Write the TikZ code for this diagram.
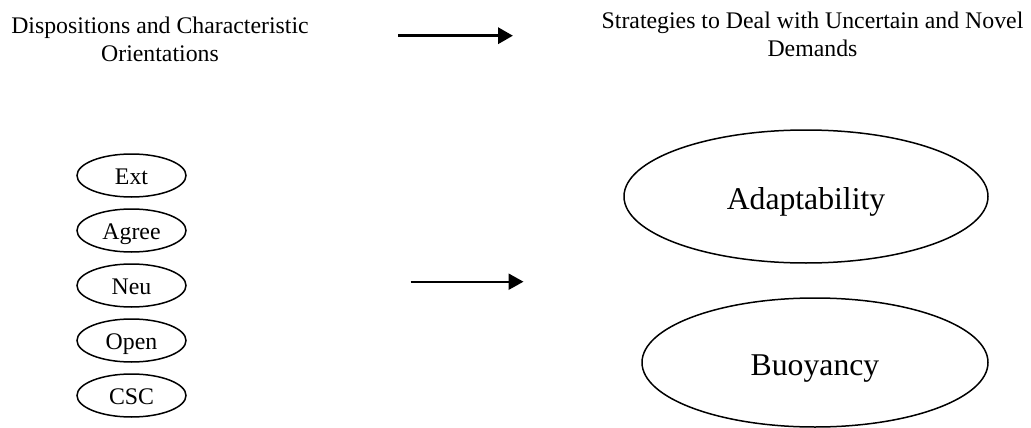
\documentclass[tikz,border=0pt]{standalone}
\usepackage{fontspec}
\setmainfont{Liberation Serif}
\usetikzlibrary{arrows.meta,shapes.geometric}
\tikzset{
  heading/.style={align=center, inner sep=0pt, font=\fontsize{23.8}{28}\selectfont},
  trait/.style={ellipse, draw, line width=1.5pt, inner sep=0pt,
    minimum width=109pt, minimum height=43pt,
    text height=17pt, text depth=0pt, font=\fontsize{23.8}{28}\selectfont},
  strategy/.style={ellipse, draw, line width=1.5pt, inner sep=0pt,
    text height=25.4pt, text depth=0pt, font=\fontsize{31.7}{36}\selectfont},
  flow/.style={-{Triangle[length=15pt,width=16pt]}},
}
\begin{document}
\begin{tikzpicture}[x=1pt,y=-1pt]
\useasboundingbox (0,0) rectangle (1031,428);

% column headings
\node[heading] (hleft) at (160,39.5) {Dispositions and Characteristic\\Orientations};
\node[heading] (hright) at (812.5,34.5) {Strategies to Deal with Uncertain and Novel\\Demands};

% personality traits
\node[trait] (ext)   at (131.5,175.5) {Ext};
\node[trait] (agree) at (131.5,230.5) {Agree};
\node[trait] (neu)   at (131.5,285.5) {Neu};
\node[trait] (open)  at (131.5,340.5) {Open};
\node[trait] (csc)   at (131.5,395.5) {CSC};

% outcome strategies
\node[strategy, minimum width=364pt, minimum height=133pt] (adapt) at (806,196.5) {Adaptability};
\node[strategy, minimum width=346pt, minimum height=129pt] (buoy) at (815,362.5) {Buoyancy};

% arrows
\coordinate (topA) at (398,35.7);
\coordinate (topB) at (513,35.7);
\coordinate (midA) at (410.7,281.7);
\coordinate (midB) at (523.5,281.7);
\draw[flow, line width=3.3pt] (topA) -- (topB);
\draw[flow, line width=2.3pt] (midA) -- (midB);
\end{tikzpicture}
\end{document}
